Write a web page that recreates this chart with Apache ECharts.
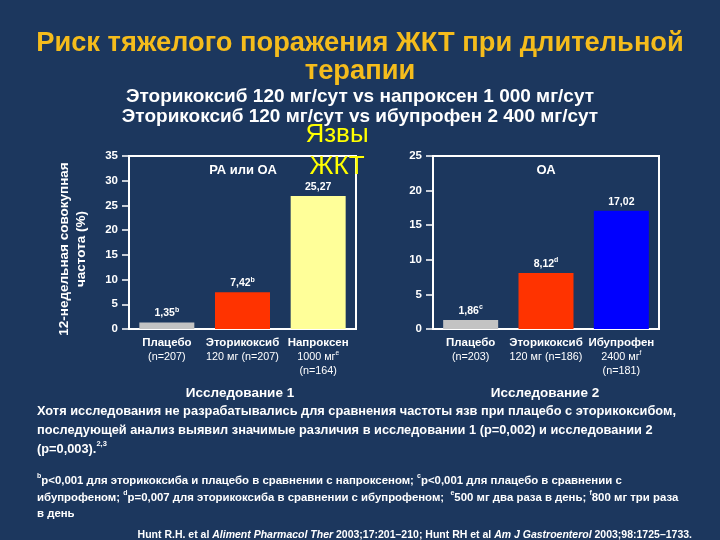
<!DOCTYPE html>
<html><head><meta charset="utf-8">
<script src="https://cdn.jsdelivr.net/npm/echarts@6/dist/echarts.min.js"></script>
<style>html,body{margin:0;padding:0;background:#1c375e;}#c{width:720px;height:540px;}</style>
</head><body><div id="c"></div>
<script>
// ---- data ----
const categories1 = ['Плацебо\n(n=207)', 'Эторикоксиб\n120 мг (n=207)', 'Напроксен\n1000 мг^e\n(n=164)'];
const values1 = [1.3, 7.45, 26.9];
const valueLabels1 = ['1,35^b', '7,42^b', '25,27'];
const categories2 = ['Плацебо\n(n=203)', 'Эторикоксиб\n120 мг (n=186)', 'Ибупрофен\n2400 мг^f\n(n=181)'];
const values2 = [1.3, 8.1, 17.1];
const valueLabels2 = ['1,86^c', '8,12^d', '17,02'];
const yTicks1 = {min: 0, max: 35, interval: 5};
const yTicks2 = {min: 0, max: 25, interval: 5};
const colors1 = ['#c3c3c3', '#ff3300', '#ffff99'];
const colors2 = ['#c3c3c3', '#ff3300', '#0000ff'];

const FONT = 'Liberation Sans';
function catFmt(v){
  const lines = v.split('\n');
  return lines.map((l,i)=>{
    if(i===0) return '{a|'+l+'}';
    const parts = l.split('^');
    return parts.length>1 ? '{b|'+parts[0]+'}{bs|'+parts[1]+'}' : '{b|'+l+'}';
  }).join('\n');
}
const catRich = {
  a:{color:'#fff',fontSize:11.5,fontWeight:'bold',fontFamily:FONT,lineHeight:14},
  b:{color:'#fff',fontSize:10.8,fontFamily:FONT,lineHeight:14},
  bs:{color:'#fff',fontSize:6.5,fontFamily:FONT,verticalAlign:'top',lineHeight:14}
};
function valLabel(labels){
  return function(p){
    const parts = labels[p.dataIndex].split('^');
    return parts.length>1 ? '{v|'+parts[0]+'}{s|'+parts[1]+'}' : '{v|'+parts[0]+'}';
  };
}
const valRich = {
  v:{color:'#fff',fontSize:10.5,fontWeight:'bold',fontFamily:FONT,lineHeight:14},
  s:{color:'#fff',fontSize:7,fontWeight:'bold',fontFamily:FONT,verticalAlign:'top',lineHeight:14}
};
function yAxis(idx, t){
  return {type:'value', gridIndex:idx, min:t.min, max:t.max, interval:t.interval,
    axisLine:{show:true, lineStyle:{color:'#fff', width:2}},
    axisTick:{show:true, inside:false, length:7, lineStyle:{color:'#fff', width:1.5}},
    splitLine:{show:false},
    axisLabel:{color:'#fff', fontSize:11.5, fontWeight:'bold', fontFamily:FONT, margin:11}};
}
function xAxis(idx, cats){
  return {type:'category', gridIndex:idx, data:cats,
    axisLine:{show:true, lineStyle:{color:'#fff', width:2}},
    axisTick:{show:false},
    axisLabel:{interval:0, margin:7, formatter:catFmt, rich:catRich}};
}
function barSeries(idx, vals, cols, labels){
  return {type:'bar', xAxisIndex:idx, yAxisIndex:idx, barWidth:55,
    data: vals.map((v,i)=>({value:v, itemStyle:{color:cols[i]}})),
    label:{show:true, position:'top', distance:2, formatter:valLabel(labels), rich:valRich}};
}
const txt = (x,y,text,opt)=>({type:'text', x:x, y:y, style:Object.assign({text:text, fill:'#fff', fontFamily:FONT, align:'center', verticalAlign:'middle'}, opt||{})});

const chart = echarts.init(document.getElementById('c'), null, {renderer:'canvas'});
chart.setOption({
  backgroundColor:'#1c375e',
  animation:false,
  grid:[
    {left:129, top:156, width:227, height:173, show:true, borderColor:'#fff', borderWidth:2, backgroundColor:'transparent'},
    {left:433, top:156, width:226, height:173, show:true, borderColor:'#fff', borderWidth:2, backgroundColor:'transparent'}
  ],
  xAxis:[xAxis(0, categories1), xAxis(1, categories2)],
  yAxis:[yAxis(0, yTicks1), yAxis(1, yTicks2)],
  series:[barSeries(0, values1, colors1, valueLabels1), barSeries(1, values2, colors2, valueLabels2)],
  graphic:[
    txt(360, 43, 'Риск тяжелого поражения ЖКТ при длительной', {fill:'#f5bc1c', fontSize:27.3, fontWeight:'bold'}),
    txt(360, 71, 'терапии', {fill:'#f5bc1c', fontSize:27.3, fontWeight:'bold'}),
    txt(360, 97, 'Эторикоксиб 120 мг/сут vs напроксен 1 000 мг/сут', {fontSize:19, fontWeight:'bold'}),
    txt(360, 117, 'Эторикоксиб 120 мг/сут vs ибупрофен 2 400 мг/сут', {fontSize:19, fontWeight:'bold'}),
    txt(243, 170, 'РА или ОА', {fontSize:13, fontWeight:'bold'}),
    txt(546, 170, 'ОА', {fontSize:13, fontWeight:'bold'}),
    {type:'text', x:73, y:249, rotation:Math.PI/2, style:{text:'12-недельная совокупная\nчастота (%)', fill:'#fff', fontFamily:FONT, fontSize:13.5, fontWeight:'bold', lineHeight:17, align:'center', verticalAlign:'middle'}},
    txt(240, 393, 'Исследование 1', {fontSize:13.5, fontWeight:'bold'}),
    txt(545, 393, 'Исследование 2', {fontSize:13.5, fontWeight:'bold'}),
    {type:'text', x:37, y:402, style:{text:'{t|Хотя исследования не разрабатывались для сравнения частоты язв при плацебо с эторикоксибом,}\n{t|последующей анализ выявил значимые различия в исследовании 1 (p=0,002) и исследовании 2}\n{t|(p=0,003).}{s|2,3}', fill:'#fff', fontFamily:FONT, align:'left', verticalAlign:'top', rich:{t:{fill:'#fff',fontSize:12.8,fontWeight:'bold',fontFamily:FONT,lineHeight:19}, s:{fill:'#fff',fontSize:7.5,fontWeight:'bold',fontFamily:FONT,lineHeight:19,verticalAlign:'top'}}}},
    {type:'text', x:37, y:473, style:{text:'{s|b}{t|p<0,001 для эторикоксиба и плацебо в сравнении с напроксеном; }{s|c}{t|p<0,001 для плацебо в сравнении с}\n{t|ибупрофеном; }{s|d}{t|p=0,007 для эторикоксиба в сравнении с ибупрофеном;  }{s|e}{t|500 мг два раза в день; }{s|f}{t|800 мг три раза}\n{t|в день}', fill:'#fff', fontFamily:FONT, align:'left', verticalAlign:'top', rich:{t:{fill:'#fff',fontSize:11.4,fontWeight:'bold',fontFamily:FONT,lineHeight:16.5}, s:{fill:'#fff',fontSize:7,fontWeight:'bold',fontFamily:FONT,lineHeight:16.5,verticalAlign:'top'}}}},
    {type:'text', x:692, y:535, style:{text:'{t|Hunt R.H. et al }{i|Aliment Pharmacol Ther}{t| 2003;17:201–210; Hunt RH et al }{i|Am J Gastroenterol}{t| 2003;98:1725–1733.}', fill:'#fff', fontFamily:FONT, align:'right', verticalAlign:'middle', rich:{t:{fill:'#fff',fontSize:10.5,fontWeight:'bold',fontFamily:FONT}, i:{fill:'#fff',fontSize:10.5,fontWeight:'bold',fontStyle:'italic',fontFamily:FONT}}}},
    {type:'text', x:337, y:151, z:100, style:{text:'Язвы\nЖКТ', fill:'#ffff00', fontFamily:FONT, fontSize:26, lineHeight:32, align:'center', verticalAlign:'middle'}}
  ]
});
</script></body></html>
